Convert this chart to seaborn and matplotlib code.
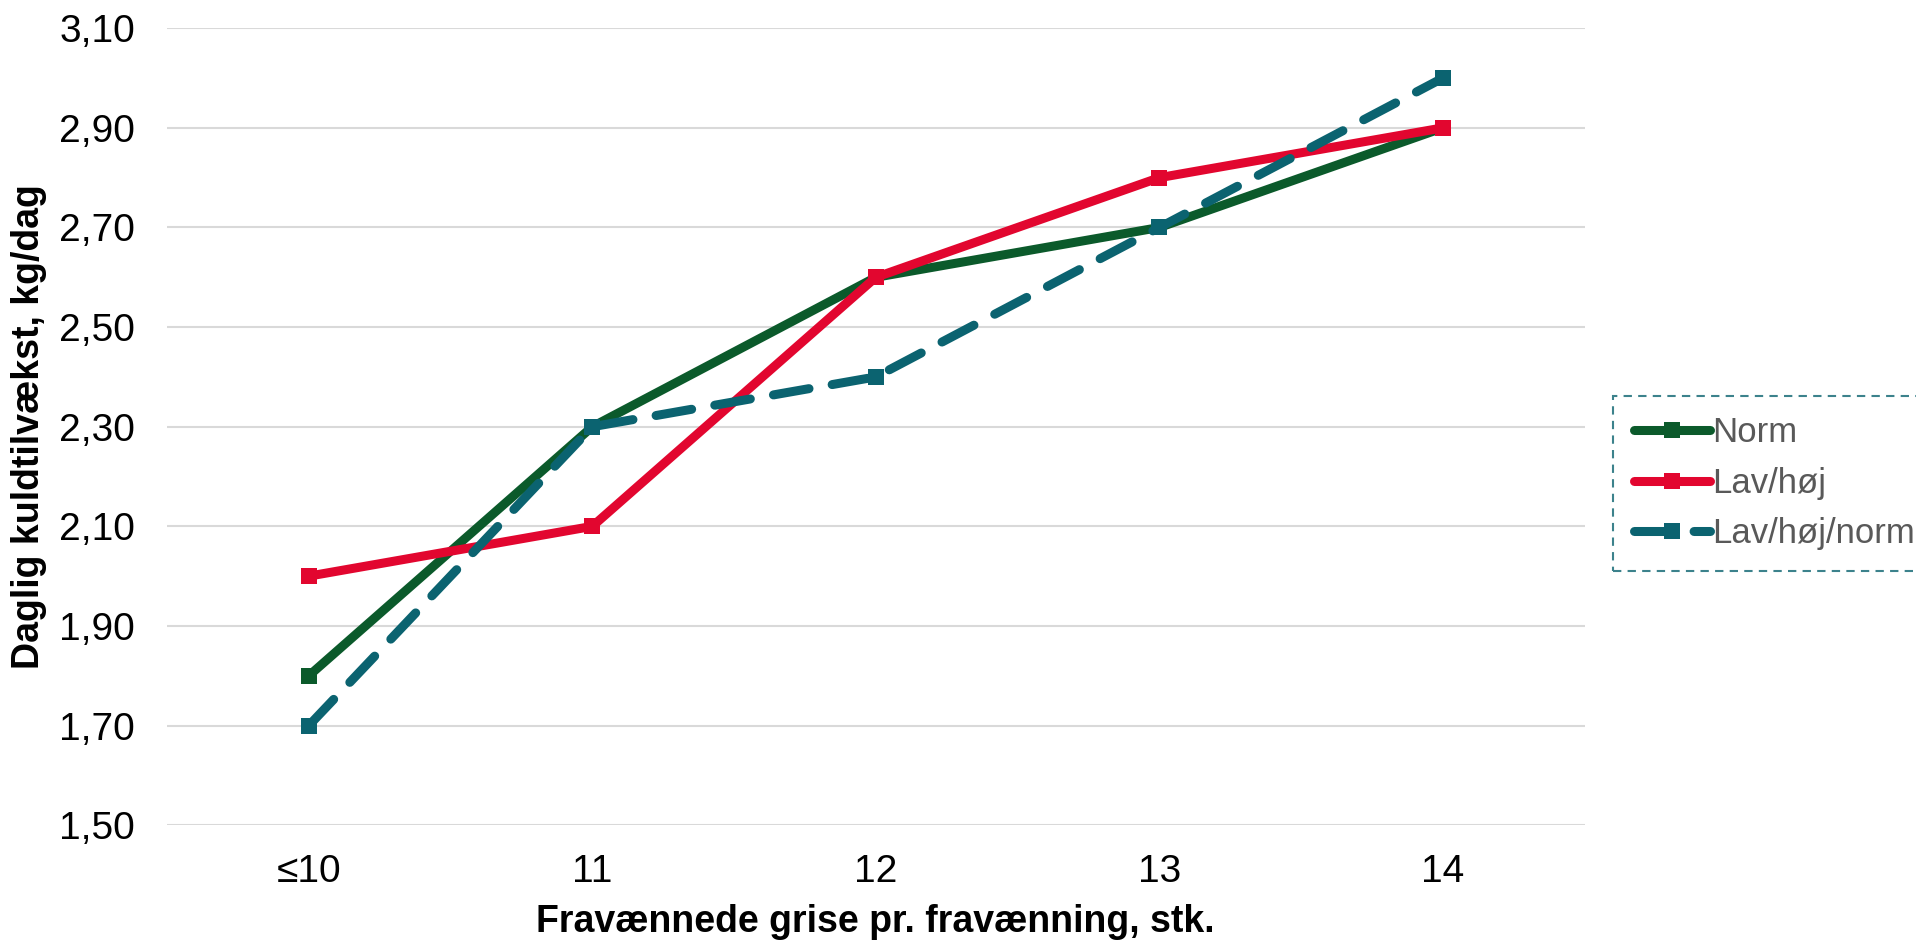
import pandas as pd
import seaborn as sns
import matplotlib.pyplot as plt
from matplotlib.ticker import FuncFormatter

categories = ["≤10", "11", "12", "13", "14"]
norm = [1.80, 2.30, 2.60, 2.70, 2.90]
lav_hoj = [2.00, 2.10, 2.60, 2.80, 2.90]
lav_hoj_norm = [1.70, 2.30, 2.40, 2.70, 3.00]

series_names = ["Norm", "Lav/høj", "Lav/høj/norm"]
colors = {"Norm": "#0B5A2B", "Lav/høj": "#E2062F", "Lav/høj/norm": "#0B6370"}

df = pd.DataFrame({
    "x": categories * 3,
    "y": norm + lav_hoj + lav_hoj_norm,
    "serie": [s for s in series_names for _ in categories],
})

sns.set_style("white")
plt.rcParams["font.family"] = ["Liberation Sans", "DejaVu Sans"]

fig = plt.figure(figsize=(19.16, 9.42), dpi=100)
ax = fig.add_axes([0.0872, 0.124, 0.827 - 0.0872, 0.970 - 0.124])

for name in series_names:
    sub = df[df["serie"] == name]
    sns.lineplot(data=sub, x="x", y="y", ax=ax, color=colors[name], sort=False,
                 linewidth=6.5, marker="s", markersize=11, markeredgewidth=0,
                 label=name, solid_capstyle="round", zorder=3)

# dashed line for the third series
teal = ax.get_lines()[2]
teal.set_dashes((4, 2.6))
teal.set_dash_capstyle("round")

ax.set_xlim(-0.5, 4.5)
ax.set_ylim(1.5, 3.1)
ax.set_yticks([1.5 + 0.2 * i for i in range(9)])
ax.yaxis.set_major_formatter(FuncFormatter(lambda v, p: f"{v:.2f}".replace(".", ",")))
ax.grid(axis="y", color="#D9D9D9", linewidth=1.5)
ax.grid(axis="x", visible=False)
for s in ax.spines.values():
    s.set_visible(False)
ax.tick_params(axis="both", length=0, labelsize=28, colors="black")
ax.tick_params(axis="y", pad=23)
ax.tick_params(axis="x", pad=21)

ax.set_xlabel("Fravænnede grise pr. fravænning, stk.", fontsize=27, fontweight="bold",
              color="black", labelpad=10)
ax.set_ylabel("Daglig kuldtilvækst, kg/dag", fontsize=27, fontweight="bold", color="black")
ax.yaxis.set_label_coords(-0.085, 0.5)

leg = ax.legend(loc="center left", bbox_to_anchor=(0.842, 0.487), bbox_transform=fig.transFigure,
                frameon=True, fancybox=False, fontsize=25, handlelength=2.2, handletextpad=0.05,
                labelspacing=0.5, borderpad=0.6, borderaxespad=0, labelcolor="#595959")
frame = leg.get_frame()
frame.set_edgecolor("#0B6370")
frame.set_linestyle((0, (4, 3)))
frame.set_linewidth(1.5)
leg.get_lines()[2].set_dashes((4, 2.6))

fig.savefig("out.png", dpi=100)
